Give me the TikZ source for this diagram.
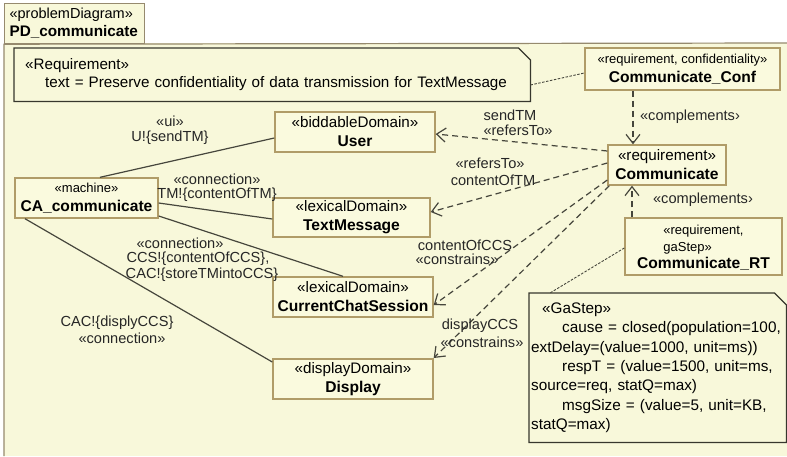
\documentclass[tikz,border=0pt]{standalone}
\usepackage{fontspec}
\setmainfont{Liberation Sans}
\usetikzlibrary{arrows.meta}
\definecolor{bgc}{RGB}{248,248,218}
\definecolor{boxfill}{RGB}{250,250,222}
\definecolor{boxline}{RGB}{176,156,104}
\definecolor{frameline}{RGB}{150,138,110}
\definecolor{noteline}{RGB}{55,55,45}
\definecolor{conline}{RGB}{70,70,60}
\tikzset{
 dombox/.style={draw=boxline, fill=boxfill, line width=1.4pt, align=center, inner sep=0pt, font=\fontsize{15.2}{19}\selectfont},
 notebox/.style={anchor=north west, align=left, inner ysep=0pt},
 lbl/.style={font=\fontsize{14.6}{16}\selectfont, inner sep=0pt, align=center, text=black!85},
 solidcon/.style={draw=conline, line width=1.2pt},
 dashcon/.style={draw=conline, line width=1.2pt, dash pattern=on 6pt off 4pt, -{Straight Barb[length=9pt,width=14pt,line width=1.2pt]}},
 dotcon/.style={draw=conline, line width=0.9pt, dash pattern=on 2.5pt off 1.5pt},
}
\newcommand{\smst}[1]{{\fontsize{13}{17}\selectfont #1}}
\newcommand{\nmb}[1]{{\fontsize{15.6}{19}\selectfont\bfseries #1}}
\begin{document}
\begin{tikzpicture}[x=1pt,y=-1pt]
\useasboundingbox (0,0) rectangle (787,456);
\fill[white] (0,0) rectangle (787,456);
\fill[bgc] (4,43) rectangle (787,456);
% tab
\node[draw=frameline, fill=bgc, line width=1.2pt, anchor=north west, minimum width=140, minimum height=40, text width=130, inner xsep=5, inner ysep=0, align=left, font=\fontsize{14.5}{18}\selectfont] (tab) at (4,3) {«problemDiagram»\\{\fontsize{15.3}{18}\selectfont\bfseries PD\_communicate}};
\draw[frameline, line width=1.2pt] (4,456) -- (tab.south west) -- (787,43);

% requirement note
\node[notebox, minimum width=516, minimum height=53, text width=494, inner xsep=11, font=\fontsize{15.2}{18}\selectfont] (reqnote) at (14,48) {«Requirement»\\\hspace*{20pt}text = Preserve confidentiality of data transmission for TextMessage};
\draw[noteline, line width=1.2pt] (reqnote.north west) -- ([xshift=-12pt]reqnote.north east) -- ([yshift=-12pt]reqnote.north east) -- (reqnote.south east) -- (reqnote.south west) -- cycle;

% GaStep note
\node[notebox, minimum width=257, minimum height=149, text width=253, inner xsep=2, font=\fontsize{15.3}{19.3}\selectfont] (ganote) at (529,293) {\hspace*{11pt}«GaStep»\\
\hspace*{31pt}cause = closed(population=100,\\
extDelay=(value=1000, unit=ms))\\
\hspace*{31pt}respT = (value=1500, unit=ms,\\
source=req, statQ=max)\\
\hspace*{31pt}msgSize = (value=5, unit=KB,\\
statQ=max)};
\draw[noteline, line width=1.2pt] (ganote.north west) -- ([xshift=-12pt]ganote.north east) -- ([yshift=-12pt]ganote.north east) -- (ganote.south east) -- (ganote.south west) -- cycle;

% domain boxes
\node[dombox, minimum width=160, minimum height=40] (user) at (355,132) {«biddableDomain»\\\nmb{User}};
\node[dombox, minimum width=143, minimum height=40] (ca) at (86.5,198) {\smst{«machine»}\\\nmb{CA\_communicate}};
\node[dombox, minimum width=157, minimum height=39] (tm) at (351.5,217.5) {«lexicalDomain»\\\nmb{TextMessage}};
\node[dombox, minimum width=160, minimum height=40] (ccs) at (353,297) {«lexicalDomain»\\\nmb{CurrentChatSession}};
\node[dombox, minimum width=160, minimum height=40] (disp) at (353,379) {«displayDomain»\\\nmb{Display}};
\node[dombox, minimum width=118, minimum height=40] (comm) at (667,165) {«requirement»\\\nmb{Communicate}};
\node[dombox, minimum width=195, minimum height=42] (conf) at (682.5,69) {\smst{«requirement, confidentiality»}\\\nmb{Communicate\_Conf}};
\node[dombox, minimum width=157, minimum height=57] (rt) at (703.5,246.5) {{\fontsize{13}{17}\selectfont\begin{tabular}{@{}l@{}}«requirement,\\gaStep»\end{tabular}}\\[-1pt]\nmb{Communicate\_RT}};

% solid connections
\draw[solidcon] (ca.north -| 100,0) -- (user.west |- 0,138);
\draw[solidcon] (ca.east |- 0,203) -- (tm.west |- 0,219);
\draw[solidcon] (ca.east |- 0,216) -- (ccs.north -| 343,0);
\draw[solidcon] (ca.south -| 25,0) -- (disp.west |- 0,362);

% dashed dependencies
\draw[dashcon] (comm.west |- 0,151) -- (user.east |- 0,134);
\draw[dashcon] (comm.west |- 0,163) -- (tm.east |- 0,212);
\draw[dashcon] (comm.west |- 0,180) -- (ccs.east |- 0,305);
\draw[dashcon] ([xshift=2pt]comm.south west) -- (disp.east |- 0,358);
\draw[dashcon] (conf.south -| 633,0) -- (comm.north -| 633,0);
\draw[dashcon] (rt.north -| 632,0) -- (comm.south -| 632,0);

% note links
\draw[dotcon] (reqnote.east |- 0,85) -- (conf.west |- 0,73);
\draw[dotcon] (rt.west |- 0,248) -- (ganote.north -| 550,0);

% labels
\node[lbl] (l1) at (170,121) {«ui»};
\node[lbl] (l2) at (170,138) {U!\{sendTM\}};
\node[lbl] (l3) at (217,179) {«connection»};
\node[lbl] (l4) at (217,195) {TM!\{contentOfTM\}};
\node[lbl] (l5) at (180,243) {«connection»};
\node[lbl] (l6) at (198,259) {CCS!\{contentOfCCS\},};
\node[lbl] (l7) at (202,275) {CAC!\{storeTMintoCCS\}};
\node[lbl] (l8) at (117,323) {CAC!\{displyCCS\}};
\node[lbl] (l9) at (122,338) {«connection»};
\node[lbl] (l10) at (510,115) {sendTM};
\node[lbl] (l11) at (518,130) {«refersTo»};
\node[lbl] (l12) at (490,163) {«refersTo»};
\node[lbl] (l13) at (493,180) {contentOfTM};
\node[lbl] (l14) at (465,245) {contentOfCCS};
\node[lbl] (l15) at (457,259) {«constrains»};
\node[lbl] (l16) at (480,326) {displayCCS};
\node[lbl] (l17) at (482,342) {«constrains»};
\node[lbl] (l18) at (690,117) {«complements›};
\node[lbl] (l19) at (703,200) {«complements›};
\end{tikzpicture}
\end{document}
